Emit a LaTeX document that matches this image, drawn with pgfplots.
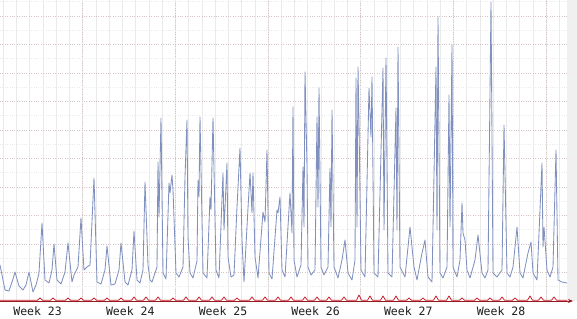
\documentclass[border=0pt]{standalone}
\usepackage{fontspec}
\setmonofont{DejaVu Sans Mono}
\usepackage{pgfplots}
\pgfplotsset{compat=1.18}
\usetikzlibrary{arrows.meta}
\definecolor{lineblue}{RGB}{128,145,192}
\definecolor{linered}{RGB}{200,30,40}
\definecolor{axisred}{RGB}{150,25,30}
\definecolor{gridmin}{RGB}{234,234,234}
\definecolor{gridmaj}{RGB}{212,196,196}
\definecolor{canvas}{RGB}{240,240,240}
\definecolor{labeltext}{RGB}{30,30,30}

\pgfplotstableread{
x y
0 36
5 11
9 10
13 22
15 29
19 15
23 11
26 16
29 29
33 9
36 16
39 28
42 78
45 21
49 18
52 31
54 57
57 21
61 17
65 29
68 58
72 19
74 26
78 34
81 83
84 31
87 34
90 36
94 123
97 19
101 17
105 31
107 55
111 16
115 17
119 31
121 58
125 19
128 16
132 31
134 70
137 21
140 18
143 31
145 119
148 36
150 21
152 19
157 34
158 139
159 84
161 183
163 28
166 22
169 118
170 108
172 126
173 111
176 28
179 24
183 34
185 124
187 181
188 64
190 28
193 23
197 40
198 121
199 104
200 184
203 28
207 23
210 104
211 91
213 183
216 31
219 23
223 128
224 71
227 138
228 44
231 24
234 26
237 94
240 153
242 61
244 19
248 93
250 128
252 88
253 128
255 44
258 23
263 89
265 79
267 151
269 28
272 22
277 91
278 88
280 104
282 31
285 24
290 108
292 68
293 194
294 41
297 24
301 36
303 134
304 74
305 229
307 134
308 34
311 26
315 31
317 184
318 94
319 213
321 34
324 26
328 34
330 133
331 74
332 191
334 34
338 23
342 41
345 61
348 28
352 21
355 41
356 223
357 74
358 234
359 178
361 31
365 24
369 213
371 164
372 224
374 28
378 24
383 233
384 71
386 243
388 28
392 24
396 193
397 71
398 254
400 34
405 24
410 74
412 54
414 34
417 21
422 48
425 61
428 24
432 19
436 234
437 71
438 284
440 28
443 23
447 34
449 206
450 74
452 256
453 34
457 24
460 41
462 98
463 68
465 61
467 31
470 23
475 41
478 66
482 28
485 23
488 31
491 299
493 28
497 24
502 31
504 176
507 28
510 24
513 34
517 74
520 28
523 23
528 48
531 59
533 28
537 21
542 138
543 54
544 74
547 31
550 24
553 34
556 151
558 21
562 19
567 18
}\bluedata

\pgfplotstableread{
x y
0 0.8
37.5 0.8
40 3
42.5 0.8
50.5 0.8
53 3
55.5 0.8
65.5 0.8
68 3
70.5 0.8
78.5 0.8
81 3
83.5 0.8
91.5 0.8
94 3
96.5 0.8
104.5 0.8
107 3
109.5 0.8
118.5 0.8
121 3
123.5 0.8
131.5 0.8
134 4
136.5 0.8
143.5 0.8
146 4
148.5 0.8
155.5 0.8
158 4
160.5 0.8
170.5 0.8
173 3
175.5 0.8
183.5 0.8
186 4
188.5 0.8
196.5 0.8
199 4
201.5 0.8
209.5 0.8
212 4
214.5 0.8
221.5 0.8
224 4
226.5 0.8
234.5 0.8
237 3
239.5 0.8
249.5 0.8
252 4
254.5 0.8
262.5 0.8
265 4
267.5 0.8
275.5 0.8
278 4
280.5 0.8
288.5 0.8
291 4
293.5 0.8
302.5 0.8
305 4
307.5 0.8
314.5 0.8
317 4
319.5 0.8
326.5 0.8
329 4
331.5 0.8
341.5 0.8
344 4
346.5 0.8
356.5 0.8
359 6
361.5 0.8
367.5 0.8
370 5
372.5 0.8
380.5 0.8
383 5
385.5 0.8
393.5 0.8
396 5
398.5 0.8
406.5 0.8
409 3
411.5 0.8
420.5 0.8
423 3
425.5 0.8
433.5 0.8
436 5
438.5 0.8
446.5 0.8
449 5
451.5 0.8
459.5 0.8
462 3
464.5 0.8
474.5 0.8
477 3
479.5 0.8
487.5 0.8
490 3
492.5 0.8
499.5 0.8
502 4
504.5 0.8
512.5 0.8
515 3
517.5 0.8
527.5 0.8
530 5
532.5 0.8
538.5 0.8
541 4
543.5 0.8
551.5 0.8
554 4
556.5 0.8
567 0.8
}\reddata

\begin{document}
\begin{tikzpicture}
\useasboundingbox (0,-17pt) rectangle (577pt,301pt);
\fill[white] (0,-17pt) rectangle (577pt,301pt);
\fill[canvas] (567pt,0) rectangle (577pt,301pt);
\begin{axis}[
  at={(0,0)}, anchor=south west,
  scale only axis, width=567pt, height=301pt,
  xmin=0, xmax=567, ymin=0, ymax=301,
  axis x line=bottom, axis y line=left,
  x axis line style={draw=axisred, line width=0.8pt, -{Stealth[length=5pt,width=4pt]}, shorten >=-6pt},
  y axis line style={draw=none},
  xtick={82.6,175.3,267.9,360.6,453.3,546.0},
  xticklabels={},
  minor xtick={3.2,16.44,...,567},
  ytick={0,28.5,...,301},
  yticklabels={},
  minor ytick={14.25,42.75,...,301},
  grid=both,
  major x grid style={draw=gridmaj, dotted, line width=0.7pt},
  minor x grid style={draw=gridmin, line width=0.5pt},
  major y grid style={draw=gridmaj, dotted, line width=0.7pt},
  minor y grid style={draw=gridmin, dotted, line width=0.6pt},
  tick style={draw=none},
  major tick length=0pt, minor tick length=0pt,
  extra x ticks={37.6,130.3,223,315.6,408.3,501},
  extra x tick labels={Week 23,Week 24,Week 25,Week 26,Week 27,Week 28},
  extra x tick style={grid=none},
  xticklabel style={anchor=base, inner sep=0pt, yshift=-14.5pt, text=labeltext, font=\fontsize{11.5}{11.5}\selectfont\ttfamily},
  clip=false,
]
\addplot[lineblue, line width=0.85pt, line join=round] table[x=x, y=y] {\bluedata};
\addplot[linered, line width=0.8pt, line join=round] table[x=x, y=y] {\reddata};
\end{axis}
\end{tikzpicture}
\end{document}
